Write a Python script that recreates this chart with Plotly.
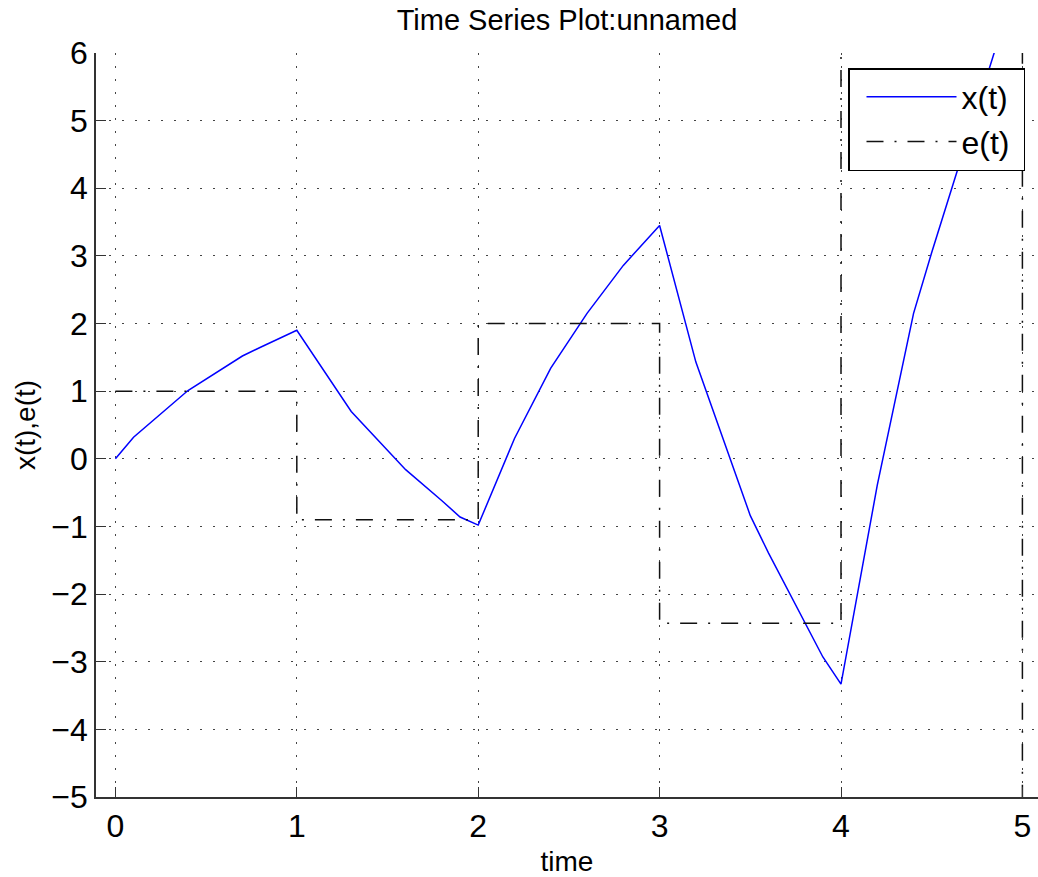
import plotly.graph_objects as go

# x(t) response samples
t_x = [0, 0.1, 0.4, 0.7, 0.8, 1.0, 1.3, 1.6, 1.8, 1.9, 2.0, 2.2, 2.4, 2.6, 2.8, 3.0,
       3.2, 3.3, 3.5, 3.6, 3.8, 3.9, 4.0, 4.2, 4.4, 4.5, 4.85, 5.0]
x_vals = [0, 0.32, 1.01, 1.52, 1.65, 1.90, 0.70, -0.16, -0.62, -0.86, -0.98, 0.30, 1.34,
          2.15, 2.86, 3.45, 1.43, 0.67, -0.84, -1.39, -2.41, -2.93, -3.33, -0.39, 2.15,
          3.05, 6.05, 7.2]

# e(t) piecewise-constant input
t_e = [0, 1, 2, 3, 4, 5, 5.3]
e_vals = [1, -0.9, 2, -2.43, 9, -9, -9]

x_ticks = [0, 1, 2, 3, 4, 5]
y_ticks = [-5, -4, -3, -2, -1, 0, 1, 2, 3, 4, 5, 6]

FONT = "Liberation Sans, Arial, Helvetica, sans-serif"

fig = go.Figure()
fig.add_trace(go.Scatter(x=t_x, y=x_vals, mode="lines", name="x(t)\u00a0",
                         line=dict(color="#0000ff", width=1.5)))
fig.add_trace(go.Scatter(x=t_e, y=e_vals, mode="lines", name="e(t)\u00a0", line_shape="hv",
                         line=dict(color="#111111", width=1.5, dash="17px,11px,2px,11px")))

grid_dash = "1.5px,11.5px"
fig.update_layout(
    width=1038, height=877,
    margin=dict(l=96, r=0, t=53, b=80, autoexpand=False),
    paper_bgcolor="white", plot_bgcolor="white",
    title=dict(text="Time Series Plot:unnamed", x=0.5, xref="paper", xanchor="center",
               yref="container", y=1 - 20 / 877, yanchor="middle", automargin=False,
               font=dict(family=FONT, size=29, color="black")),
    font=dict(family=FONT, color="black"),
    showlegend=True,
    legend=dict(x=(848 - 96) / 942, y=(797 - 68) / 744, xanchor="left", yanchor="top",
                bgcolor="white", bordercolor="black", borderwidth=1.5,
                font=dict(family=FONT, size=32, color="black"),
                itemwidth=90, tracegroupgap=0, indentation=12),
    xaxis=dict(range=[-0.107, 5.086], tickvals=x_ticks, ticks="inside", ticklen=10,
               tickwidth=1, tickcolor="#333", showline=True, linecolor="#333", linewidth=1.5,
               showgrid=True, gridcolor="#444", gridwidth=1, griddash=grid_dash,
               zeroline=False, automargin=False,
               tickfont=dict(family=FONT, size=32, color="black"),
               title=dict(text="time", font=dict(family=FONT, size=28, color="black"),
                          standoff=14)),
    yaxis=dict(range=[-5, 6], tickvals=y_ticks, ticks="inside", ticklen=10,
               tickwidth=1, tickcolor="#333", showline=True, linecolor="#333", linewidth=1.5,
               showgrid=True, gridcolor="#444", gridwidth=1, griddash=grid_dash,
               zeroline=False, automargin=False,
               tickfont=dict(family=FONT, size=32, color="black"),
               title=dict(text="x(t),e(t)", font=dict(family=FONT, size=28, color="black"),
                          standoff=8)),
)

fig.write_html("out.html", config={"displayModeBar": False},
               post_script="document.body.style.margin='0';document.body.style.padding='0';")
